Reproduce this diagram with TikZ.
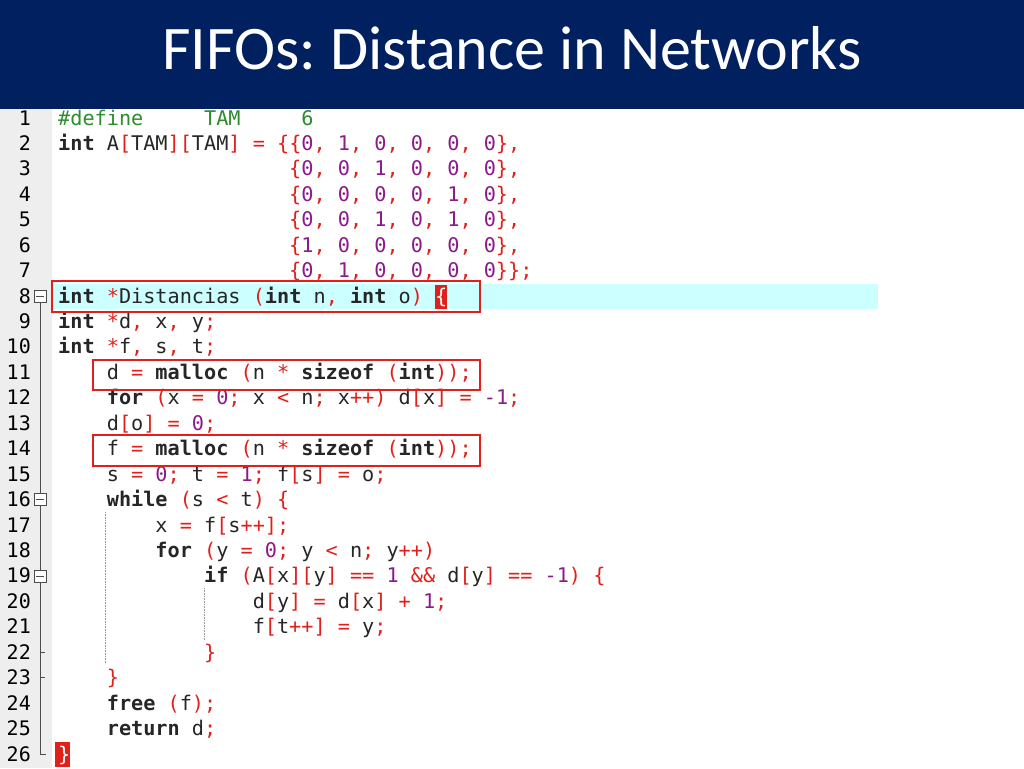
\documentclass[tikz,border=0pt]{standalone}
\usepackage{fontspec}
\setmainfont{Carlito}
\newfontfamily\codefont{DejaVu Sans Mono}
\definecolor{navy}{HTML}{002060}
\definecolor{opred}{HTML}{E0201A}
\definecolor{numpur}{HTML}{8B1A8B}
\definecolor{ppgreen}{HTML}{2E8B2E}
\definecolor{hlcyan}{HTML}{CCFFFF}
\definecolor{gutter}{HTML}{EEEEEE}
\newcommand\kw[1]{\textbf{#1}}
\newcommand\rd[1]{\textcolor{opred}{#1}}
\newcommand\pu[1]{\textcolor{numpur}{#1}}
\newcommand\gr[1]{\textcolor{ppgreen}{#1}}
\newcommand\rw{\rd{,}}
\begin{document}
\begin{tikzpicture}[x=1pt,y=-1pt,
  code/.style={anchor=base west,inner sep=0pt,font=\codefont\fontsize{20.2}{22}\selectfont,text=black!85},
  lnum/.style={anchor=base east,inner sep=0pt,font=\codefont\fontsize{20}{22}\selectfont,text=black},
  redbox/.style={draw=opred,line width=2.8pt},
  fold/.style={draw=black!70,line width=0.7pt}]
\useasboundingbox (0,0) rectangle (1024,768);
\fill[white] (0,0) rectangle (1024,768);
\fill[navy] (0,0) rectangle (1024,109);
\node[text=white,font=\fontsize{62}{70}\selectfont] (title) at (512,48) {\frenchspacing FIFOs: Distance in Networks};
\fill[gutter] (0,109) rectangle (52,768);
\fill[hlcyan] (53,284) rectangle (878,309);
% line numbers
\foreach \i in {1,...,26}{
  \node[lnum] (n\i) at (31,{125+25.44*(\i-1)}) {\i};
}
% code lines
\def\Y#1{{125+25.44*(#1-1)}}
\def\C#1{{58+12.16*#1}}
\node[code] (l1a) at (\C0,\Y1) {\gr{\#define}};
\node[code] (l1b) at (\C{12},\Y1) {\gr{TAM}};
\node[code] (l1c) at (\C{20},\Y1) {\gr{6}};
\node[code] (l2) at (\C0,\Y2) {\kw{int} A\rd{[}TAM\rd{][}TAM\rd{]} \rd{=} \rd{\{\{}\pu{0}\rw{} \pu{1}\rw{} \pu{0}\rw{} \pu{0}\rw{} \pu{0}\rw{} \pu{0}\rd{\},}};
\node[code] (l3) at (\C{19},\Y3) {\rd{\{}\pu{0}\rw{} \pu{0}\rw{} \pu{1}\rw{} \pu{0}\rw{} \pu{0}\rw{} \pu{0}\rd{\},}};
\node[code] (l4) at (\C{19},\Y4) {\rd{\{}\pu{0}\rw{} \pu{0}\rw{} \pu{0}\rw{} \pu{0}\rw{} \pu{1}\rw{} \pu{0}\rd{\},}};
\node[code] (l5) at (\C{19},\Y5) {\rd{\{}\pu{0}\rw{} \pu{0}\rw{} \pu{1}\rw{} \pu{0}\rw{} \pu{1}\rw{} \pu{0}\rd{\},}};
\node[code] (l6) at (\C{19},\Y6) {\rd{\{}\pu{1}\rw{} \pu{0}\rw{} \pu{0}\rw{} \pu{0}\rw{} \pu{0}\rw{} \pu{0}\rd{\},}};
\node[code] (l7) at (\C{19},\Y7) {\rd{\{}\pu{0}\rw{} \pu{1}\rw{} \pu{0}\rw{} \pu{0}\rw{} \pu{0}\rw{} \pu{0}\rd{\}\};}};
\fill[opred] ({58+12.16*31},285) rectangle ({58+12.16*32},309);
\node[code] (l8) at (\C0,\Y8) {\kw{int} \rd{*}Distancias \rd{(}\kw{int} n\rw{} \kw{int} o\rd{)} \textcolor{white}{\{}};
\node[code] (l9) at (\C0,\Y9) {\kw{int} \rd{*}d\rw{} x\rw{} y\rd{;}};
\node[code] (l10) at (\C0,\Y{10}) {\kw{int} \rd{*}f\rw{} s\rw{} t\rd{;}};
\node[code] (l11) at (\C4,\Y{11}) {d \rd{=} \kw{malloc} \rd{(}n \rd{*} \kw{sizeof} \rd{(}\kw{int}\rd{));}};
\node[code] (l12) at (\C4,\Y{12}) {\kw{for} \rd{(}x \rd{=} \pu{0}\rd{;} x \rd{<} n\rd{;} x\rd{++)} d\rd{[}x\rd{]} \rd{=} \pu{-1}\rd{;}};
\node[code] (l13) at (\C4,\Y{13}) {d\rd{[}o\rd{]} \rd{=} \pu{0}\rd{;}};
\node[code] (l14) at (\C4,\Y{14}) {f \rd{=} \kw{malloc} \rd{(}n \rd{*} \kw{sizeof} \rd{(}\kw{int}\rd{));}};
\node[code] (l15) at (\C4,\Y{15}) {s \rd{=} \pu{0}\rd{;} t \rd{=} \pu{1}\rd{;} f\rd{[}s\rd{]} \rd{=} o\rd{;}};
\node[code] (l16) at (\C4,\Y{16}) {\kw{while} \rd{(}s \rd{<} t\rd{)} \rd{\{}};
\node[code] (l17) at (\C8,\Y{17}) {x \rd{=} f\rd{[}s\rd{++];}};
\node[code] (l18) at (\C8,\Y{18}) {\kw{for} \rd{(}y \rd{=} \pu{0}\rd{;} y \rd{<} n\rd{;} y\rd{++)}};
\node[code] (l19) at (\C{12},\Y{19}) {\kw{if} \rd{(}A\rd{[}x\rd{][}y\rd{]} \rd{==} \pu{1} \rd{\&\&} d\rd{[}y\rd{]} \rd{==} \pu{-1}\rd{)} \rd{\{}};
\node[code] (l20) at (\C{16},\Y{20}) {d\rd{[}y\rd{]} \rd{=} d\rd{[}x\rd{]} \rd{+} \pu{1}\rd{;}};
\node[code] (l21) at (\C{16},\Y{21}) {f\rd{[}t\rd{++]} \rd{=} y\rd{;}};
\node[code] (l22) at (\C{12},\Y{22}) {\rd{\}}};
\node[code] (l23) at (\C4,\Y{23}) {\rd{\}}};
\node[code] (l24) at (\C4,\Y{24}) {\kw{free} \rd{(}f\rd{);}};
\node[code] (l25) at (\C4,\Y{25}) {\kw{return} d\rd{;}};
\fill[opred] (55,742) rectangle (70,767);
\node[code] (l26) at (\C0,\Y{26}) {\textcolor{white}{\}}};
% indent guides
\draw[black!40,densely dotted,line width=0.6pt] (105,512) -- (105,664);
\draw[black!40,densely dotted,line width=0.6pt] (204,588) -- (204,640);
% fold markers
\draw[fold,fill=white] (34,290) rectangle (46,302);
\draw[fold] (36,296) -- (44,296);
\draw[fold,fill=white] (34,493) rectangle (46,505);
\draw[fold] (36,499) -- (44,499);
\draw[fold,fill=white] (34,570) rectangle (46,582);
\draw[fold] (36,576) -- (44,576);
\draw[fold] (40,302) -- (40,493);
\draw[fold] (40,505) -- (40,570);
\draw[fold] (40,582) -- (40,754) -- (46,754);
\draw[fold] (40,652) -- (45,652);
\draw[fold] (40,677) -- (45,677);
% red boxes
\draw[redbox] (52,281) rectangle (480,312);
\draw[redbox] (93,360) rectangle (480,390);
\draw[redbox] (93,435) rectangle (480,466);
\end{tikzpicture}
\end{document}
